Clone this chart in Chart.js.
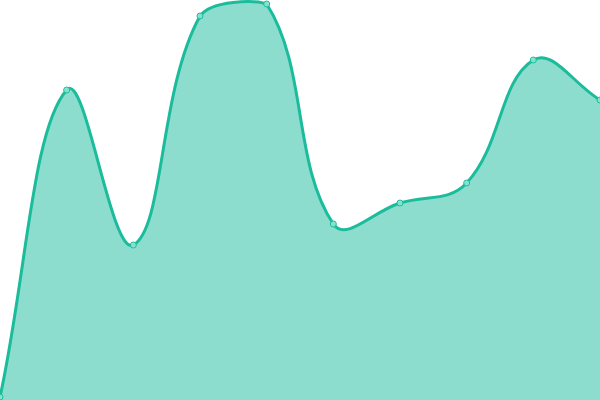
<!DOCTYPE html>
<html>
<head>
<meta charset="utf-8">
<script src="https://cdn.jsdelivr.net/npm/chart.js@4"></script>
<style>
  html, body { margin: 0; padding: 0; background: #fff; }
  #chart { display: block; }
</style>
</head>
<body>
<canvas id="chart" width="600" height="400"></canvas>
<script>
// Chart data
const labels = ['1', '2', '3', '4', '5', '6', '7', '8', '9', '10'];
const values = [3, 310, 155, 384, 396, 176, 197, 217, 340, 300];

const ctx = document.getElementById('chart').getContext('2d');

new Chart(ctx, {
  type: 'line',
  data: {
    labels: labels,
    datasets: [{
      data: values,
      borderColor: '#1abc9c',
      backgroundColor: 'rgba(26, 188, 156, 0.5)',
      borderWidth: 3,
      fill: 'origin',
      tension: 0.4,
      pointRadius: 3,
      pointBorderWidth: 1,
      pointBackgroundColor: 'rgba(140, 230, 212, 0.9)',
      pointBorderColor: '#1abc9c'
    }]
  },
  options: {
    responsive: false,
    animation: false,
    layout: { padding: 0, autoPadding: false },
    plugins: {
      legend: { display: false },
      tooltip: { enabled: false }
    },
    scales: {
      x: { display: false },
      y: { display: false, min: 0, max: 400 }
    }
  }
});
</script>
</body>
</html>
